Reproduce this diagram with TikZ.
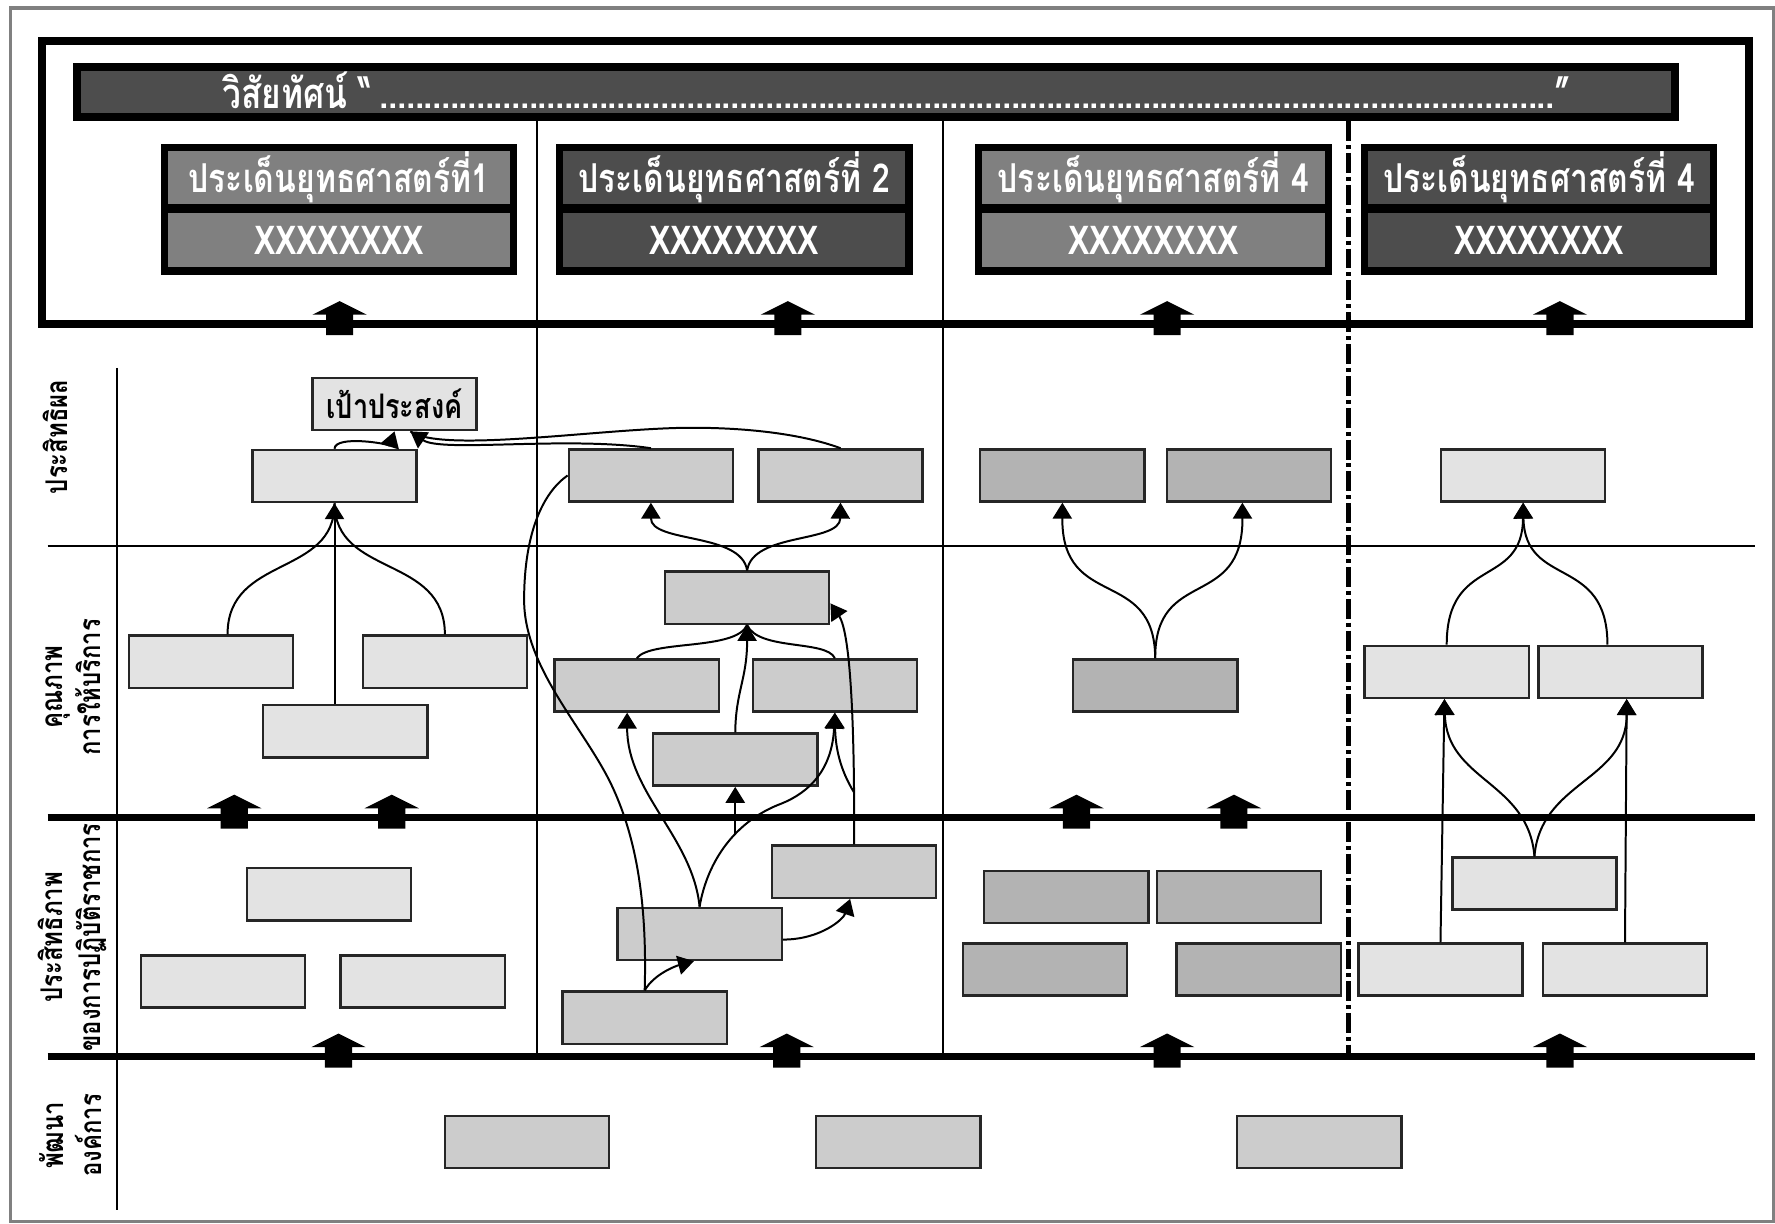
\documentclass[tikz,border=0pt]{standalone}
\usepackage{fontspec}
\newfontfamily\thai[Script=Thai,FakeStretch=0.8]{Loma}
\usepackage{tikz}
\usetikzlibrary{arrows.meta}
\definecolor{lgray}{HTML}{E3E3E3}
\definecolor{mgray}{HTML}{CCCCCC}
\definecolor{dgray}{HTML}{B3B3B3}
\definecolor{sgray}{HTML}{808080}
\definecolor{sdark}{HTML}{4D4D4D}
\newcommand{\dotrow}{\leaders\hbox to 2.2pt{\hss.\hss}\hfill}
\tikzset{cell/.style={rectangle,draw=black!85,line width=0.6pt,minimum width=1.45cm,minimum height=0.46cm,inner sep=0pt},
  lbox/.style={cell,fill=lgray},
  mbox/.style={cell,fill=mgray},
  dbox/.style={cell,fill=dgray},
  vbar/.style={rectangle,draw=black,line width=2pt,fill=sdark,minimum width=14.11cm,minimum height=0.44cm,inner sep=0pt},
  vtext/.style={text=white,inner sep=0pt,font=\thai\bfseries\fontsize{10.5}{12}\selectfont},
  sback/.style={rectangle,fill=black,minimum width=3.15cm,minimum height=1.16cm,inner sep=0pt},
  shead/.style={rectangle,fill=#1,minimum width=3.02cm,minimum height=0.47cm,inner sep=0pt,text=white,font=\thai\bfseries\fontsize{10}{12}\selectfont},
  rowlab/.style={rotate=90,align=center,inner sep=0pt,font=\thai\bfseries\fontsize{7.5}{9.5}\selectfont},
  uparr/.pic={\fill (0,-20) -- (24,-8) -- (12,-8) -- (12,10) -- (-12,10) -- (-12,-8) -- (-24,-8) -- cycle;}}

\begin{document}
\begin{tikzpicture}[x=0.01cm,y=-0.01cm,>={Triangle[length=4pt,width=4.8pt]},line width=0.5pt]
    \useasboundingbox (0,0) rectangle (1568,1081);
    \draw[gray,line width=0.8pt] (9,7) rectangle (1567,1079);
    \draw[line width=2pt] (37,36) rectangle (1545,286);

    \node[vbar] (vision) at (774,81.5) {};
    \node[vtext] (vtitle) at (792,80) {\makebox[11.9cm][l]{วิสัยทัศน์ “\dotrow”}};

    \draw (474,107) -- (474,933);
    \draw (833,107) -- (833,933);
    \draw[line width=1.3pt,dash pattern=on 5pt off 1pt on 1pt off 1pt] (1191,107) -- (1191,933);
    \draw (42,482) -- (1550,482);
    \draw[line width=1.8pt] (42,722) -- (1550,722);
    \draw[line width=1.8pt] (42,933) -- (1550,933);
    \draw (103,325) -- (103,1069);

    \node[sback] (s1) at (299.5,185) {};
    \node[shead=sgray] (s1h) at (299.5,156.5) {ประเด็นยุทธศาสตร์ที่1};
    \node[shead=sgray] (s1x) at (299.5,212) {XXXXXXXX};
    \node[sback] (s2) at (648.5,185) {};
    \node[shead=sdark] (s2h) at (648.5,156.5) {ประเด็นยุทธศาสตร์ที่ 2};
    \node[shead=sdark] (s2x) at (648.5,212) {XXXXXXXX};
    \node[sback] (s3) at (1019,185) {};
    \node[shead=sgray] (s3h) at (1019,156.5) {ประเด็นยุทธศาสตร์ที่ 4};
    \node[shead=sgray] (s3x) at (1019,212) {XXXXXXXX};
    \node[sback] (s4) at (1359.5,185) {};
    \node[shead=sdark] (s4h) at (1359.5,156.5) {ประเด็นยุทธศาสตร์ที่ 4};
    \node[shead=sdark] (s4x) at (1359.5,212) {XXXXXXXX};

    \node[rowlab] (r1) at (49,386) {ประสิทธิผล};
    \node[rowlab] (r2) at (65,607) {คุณภาพ\\การให้บริการ};
    \node[rowlab] (r3) at (64,828) {ประสิทธิภาพ\\ของการปฏิบัติราชการ};
    \node[rowlab] (r4) at (62,1003) {พัฒนา\\องค์การ};

    \node[lbox,font=\thai\bfseries\fontsize{8.5}{10}\selectfont] (goal) at (348.5,357) {เป้าประสงค์};
    \node[lbox] (a1) at (295.5,420.5) {};
    \node[lbox] (b1) at (186.5,584.5) {};
    \node[lbox] (b2) at (393,584.5) {};
    \node[lbox] (b3) at (305,646) {};
    \node[lbox] (d1) at (290.5,790) {};
    \node[lbox] (d2) at (197,867) {};
    \node[lbox] (d3) at (373.5,867) {};

    \node[mbox] (a2) at (575,420) {};
    \node[mbox] (a3) at (742.5,420) {};
    \node[mbox] (b4) at (660,528) {};
    \node[mbox] (b5) at (562.5,605.5) {};
    \node[mbox] (b6) at (737.5,605.5) {};
    \node[mbox] (b7) at (649.5,671) {};
    \node[mbox] (d4) at (754.5,770) {};
    \node[mbox] (d5) at (618,825) {};
    \node[mbox] (d6) at (569.5,899) {};

    \node[dbox] (a4) at (938.5,420) {};
    \node[dbox] (a5) at (1103.5,420) {};
    \node[dbox] (b8) at (1020.5,605.5) {};
    \node[dbox] (d7) at (942,792.5) {};
    \node[dbox] (d8) at (1094.5,792.5) {};
    \node[dbox] (d9) at (923,856.5) {};
    \node[dbox] (d10) at (1112,856.5) {};

    \node[lbox] (a6) at (1345.5,420) {};
    \node[lbox] (b9) at (1278,593.5) {};
    \node[lbox] (b10) at (1431.5,593.5) {};
    \node[lbox] (d11) at (1355.5,780.5) {};
    \node[lbox] (d12) at (1272.5,856.5) {};
    \node[lbox] (d13) at (1435.5,856.5) {};

    \node[mbox] (e1) at (465.5,1009) {};
    \node[mbox] (e2) at (793.5,1009) {};
    \node[mbox] (e3) at (1165.5,1009) {};

    \pic at (300,286) {uparr};
    \pic at (696,286) {uparr};
    \pic at (1031,286) {uparr};
    \pic at (1378,286) {uparr};
    \pic at (207,722) {uparr};
    \pic at (346,722) {uparr};
    \pic at (951,722) {uparr};
    \pic at (1090,722) {uparr};
    \pic at (299,933) {uparr};
    \pic at (695,933) {uparr};
    \pic at (1031,933) {uparr};
    \pic at (1378,933) {uparr};

    \draw[->] (a1.north) .. controls (296,384) and (345,392) .. (goal.south);
    \draw[->] (a2.north) .. controls (500,385) and (390,400) .. ([xshift=1.4mm]goal.south);
    \draw (a3.north) .. controls (705,382) and (650,377) .. (600,378) .. controls (520,380) and (390,400) .. ([xshift=1.4mm]goal.south);
    \draw ([xshift=1.45mm]b1.north) .. controls (201,490) and (296,510) .. (a1.south);
    \draw (b2.north) .. controls (393,490) and (296,510) .. (a1.south);
    \draw[->] (b3.north -| a1.south) -- (a1.south);

    \draw[->] (b4.north) .. controls (655,470) and (575,480) .. (a2.south);
    \draw[->] (b4.north) .. controls (665,470) and (742,480) .. (a3.south);
    \draw (b5.north) .. controls (575,565) and (650,575) .. (b4.south);
    \draw (b6.north) .. controls (730,565) and (670,575) .. (b4.south);
    \draw[->] (b7.north) .. controls (650,610) and (660,600) .. (b4.south);
    \draw[->] (d5.north) .. controls (612,740) and (554,700) .. ([xshift=-0.85mm]b5.south);
    \draw[->] (d5.north) .. controls (625,760) and (650,725) .. (690,710) .. controls (715,700) and (735,680) .. (b6.south);
    \coordinate (mj) at (649.5,738);
    \draw[->] (mj) -- (b7.south);
    \draw[->] (d6.north) .. controls (578,860) and (598,853) .. ([xshift=-0.5mm]d5.south);
    \draw (d6.north) .. controls (572,790) and (560,735) .. (540,693) .. controls (516,643) and (463,590) .. (463,530) .. controls (463,470) and (480,435) .. (a2.west);
    \draw[->] (d4.north) .. controls (755,650) and (752,560) .. ([yshift=-0.5mm]b4.east);
    \coordinate (rj) at (754.5,700);
    \draw[->] (rj) .. controls (742,680) and (738,660) .. (b6.south);
    \draw[->] ([yshift=-0.5mm]d5.east) .. controls (725,830) and (745,812) .. ([xshift=-0.35mm]d4.south);

    \draw[->] (b8.north) .. controls (1020,500) and (938,540) .. (a4.south);
    \draw[->] (b8.north) .. controls (1020,500) and (1098,540) .. ([xshift=-0.6mm]a5.south);

    \draw[->] (b9.north) .. controls (1278,490) and (1345,520) .. (a6.south);
    \draw[->] ([xshift=-1.15mm]b10.north) .. controls (1420,490) and (1347,520) .. (a6.south);
    \draw[->] (d12.north) -- ([xshift=-0.2mm]b9.south);
    \draw[->] (d13.north) -- ([xshift=0.55mm]b10.south);
    \draw[->] (d11.north) .. controls (1350,690) and (1278,690) .. ([xshift=-0.2mm]b9.south);
    \draw[->] (d11.north) .. controls (1361,690) and (1437,690) .. ([xshift=0.55mm]b10.south);
\end{tikzpicture}
\end{document}
